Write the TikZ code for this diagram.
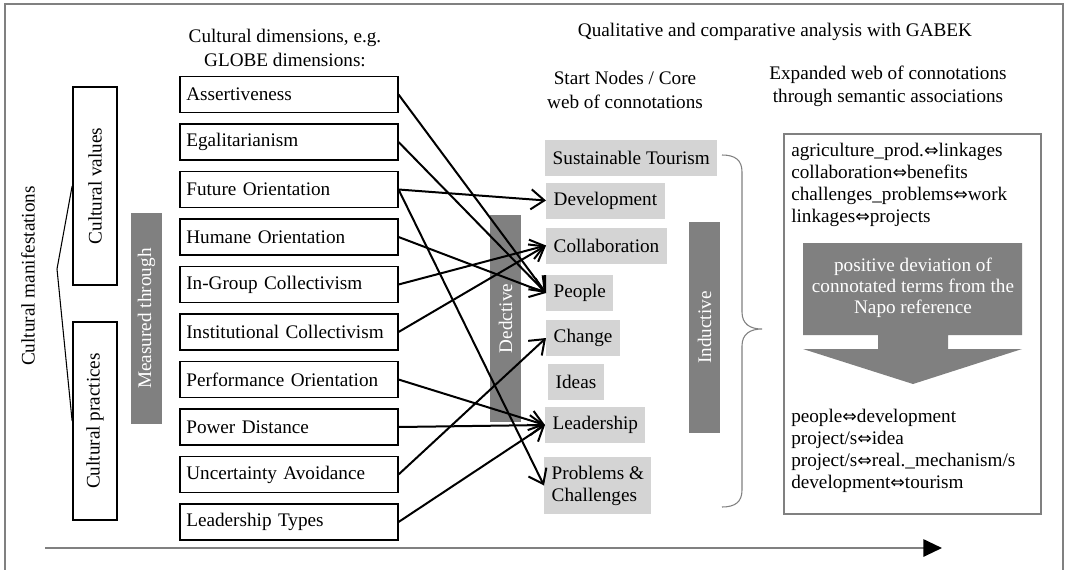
\documentclass[tikz,border=0pt]{standalone}
\usepackage{fontspec}
\setmainfont{Liberation Serif}
\newfontfamily\symfont{DejaVu Sans}
\usetikzlibrary{arrows.meta}

\definecolor{barfill}{gray}{0.5}
\definecolor{nodefill}{gray}{0.83}
\definecolor{linegray}{gray}{0.5}

\newcommand{\dbl}{{\symfont\fontsize{13pt}{13pt}\selectfont ⇔}}

\tikzset{
  dimbox/.style={draw, line width=1.3pt, text width=154pt, minimum height=27pt,
                 inner xsep=4.5pt, inner ysep=0pt, align=left},
  valuebox/.style={draw, line width=1.3pt, rotate=90, minimum width=148.5pt,
                   minimum height=33pt},
  bar/.style={fill=barfill, text=white, rotate=90, minimum height=23pt},
  startnode/.style={fill=nodefill, anchor=west, minimum height=27pt,
                    inner xsep=5.6pt, inner ysep=0pt, align=left},
  head/.style={align=center, font=\fontsize{14.4pt}{17.5pt}\selectfont},
  termlist/.style={anchor=west, inner sep=0pt, align=left},
  link/.style={line width=1.5pt, -{Straight Barb[length=10pt,width=15pt]}}
}

\begin{document}
\begin{tikzpicture}[x=0.75pt, y=-0.75pt, font=\fontsize{14.4pt}{16.5pt}\selectfont]
\useasboundingbox (0,0) rectangle (1065,569);
\draw [linegray, line width=1pt] (5,572) -- (5,4) -- (1063,4) -- (1063,572);

% left side
\node [rotate=90] (manifest) at (28,276) {Cultural manifestations};
\node [valuebox] (values) at (95,186) {Cultural values};
\node [valuebox] (practices) at (95,421) {Cultural practices};
\coordinate (manitip) at (57,269);
\draw [line width=0.8pt] (values.north) -- (manitip) -- (practices.north);
\node [bar, minimum width=158pt] (measured) at (146.5,318.5) {Measured through};

% GLOBE dimensions
\node [head] (dimhead) at (285,48) {Cultural dimensions, e.g.\\GLOBE dimensions:};
\foreach [count=\i from 0] \dname/\dtext in {assert/Assertiveness, egal/Egalitarianism,
    future/Future Orientation, humane/Humane Orientation, ingroup/In-Group Collectivism,
    instit/Institutional Collectivism, perform/Performance Orientation,
    power/Power Distance, uncert/Uncertainty Avoidance, leadtype/Leadership Types}
  \node [dimbox] (\dname) at (289,94.5+47.5*\i) {\dtext};

% start nodes
\node [head] (gabek) at (775,32) {Qualitative and comparative analysis with GABEK};
\node [head] (starthead) at (625,90) {Start Nodes / Core\\web of connotations};
\node [startnode] (tourism) at (545,158) {Sustainable Tourism};
\node [startnode] (devel) at (546,200.5) {Development};
\node [startnode] (collab) at (546,245.5) {Collaboration};
\node [startnode] (people) at (546,293) {People};
\node [startnode] (change) at (546,338) {Change};
\node [startnode] (ideas) at (548,382) {Ideas};
\node [startnode] (leader) at (545,425) {Leadership};
\node [startnode, minimum height=42.75pt] (problems) at (544,485.5) {Problems \&\\Challenges};

\node [bar, minimum width=155pt] (deduct) at (505.5,318.5) {Dedctive};
\node [bar, minimum width=158pt] (induct) at (704.5,327.5) {Inductive};

\draw [link] (assert.east) -- (people.west);
\draw [link] (egal.east) -- (people.west);
\draw [link] (future.east) -- (devel.west);
\draw [link] (future.east) -- (problems.west);
\draw [link] (humane.east) -- (people.west);
\draw [link] (ingroup.east) -- (collab.west);
\draw [link] (instit.east) -- (collab.west);
\draw [link] (perform.east) -- (leader.west);
\draw [link] (power.east) -- (leader.west);
\draw [link] (uncert.east) -- (change.west);
\draw [link] (leadtype.east) -- (leader.west);

% brace
\draw [linegray, line width=0.8pt] (722,155) .. controls (735,155) and (742,160) .. (742,172)
  -- (742,312) .. controls (742,324) and (750,329) .. (762,329)
  .. controls (750,329) and (742,334) .. (742,346)
  -- (742,490) .. controls (742,502) and (735,507) .. (722,507);

% expanded web
\node [head] (webhead) at (888,86) {Expanded web of connotations\\through semantic associations};
\node [draw=linegray, line width=1.2pt, minimum width=192.75pt, minimum height=285pt]
  (webbox) at (912.5,324) {};
\node [termlist] (before) at (791,185) {agriculture\_prod.\dbl linkages\\
  collaboration\dbl benefits\\challenges\_problems\dbl work\\linkages\dbl projects};
\fill [barfill] (803,243) -- (1022,243) -- (1022,335) -- (948,335) -- (948,349)
  -- (1022,349) -- (913,384) -- (803,349) -- (878,349) -- (878,335) -- (803,335) -- cycle;
\node [align=center, text=white, font=\fontsize{14.4pt}{15.75pt}\selectfont] (deviation)
  at (913,288) {positive deviation of\\connotated terms from the\\Napo reference};
\node [termlist] (after) at (791,451) {people\dbl development\\project/s\dbl idea\\
  project/s\dbl real.\_mechanism/s\\development\dbl tourism};

% time axis
\coordinate (timestart) at (45,548);
\coordinate (timeend) at (942,548);
\draw [linegray, line width=1.5pt, -{Triangle[length=14pt,width=13pt,black]}] (timestart) -- (timeend);
\end{tikzpicture}
\end{document}
